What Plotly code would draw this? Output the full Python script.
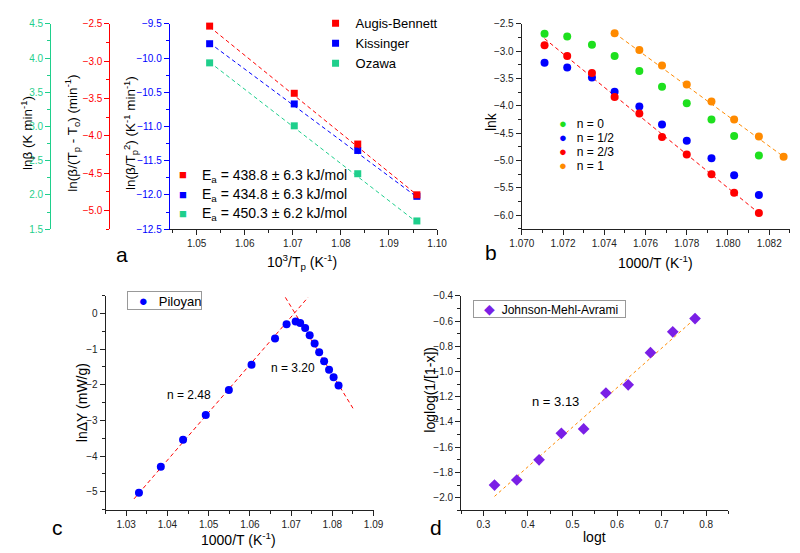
import plotly.graph_objects as go

# the page body adds an 8px margin, so the figure is drawn 8px in from the top-left corner
OFF = 8
W, H = 800 - OFF, 553 - OFF
FONT = "Liberation Sans, Arial, sans-serif"
NB = "\u00a0"

# panel a - Kissinger / Augis-Bennett / Ozawa
a_x = [1.0527, 1.0703, 1.0835, 1.0958]
a_augis = [-2.53, -3.43, -4.11, -4.79]
a_kissinger = [-9.79, -10.67, -11.35, -12.02]
a_ozawa = [3.93, 3.01, 2.31, 1.62]
a_fit_x = [1.0527, 1.0958]
a_augis_fit = [-2.54, -4.79]
a_kissinger_fit = [-9.78, -12.03]
a_ozawa_fit = [3.94, 1.60]
a_ea_labels = ["438.8 ± 6.3", "434.8 ± 6.3", "450.3 ± 6.2"]

# panel b - lnk vs 1000/T for different n
b_x = [1.0711, 1.0722, 1.0734, 1.0745, 1.0757, 1.0768, 1.0780, 1.0792, 1.0803, 1.0815]
b_n0 = [-2.68, -2.73, -2.88, -3.09, -3.36, -3.65, -3.95, -4.25, -4.55, -4.91]
b_n12 = [-3.21, -3.30, -3.48, -3.74, -4.01, -4.34, -4.64, -4.96, -5.27, -5.63]
b_n23 = [-2.89, -3.09, -3.40, -3.84, -4.14, -4.57, -4.89, -5.25, -5.59, -5.96]
b_x1 = [1.0745, 1.0757, 1.0768, 1.0780, 1.0792, 1.0803, 1.0815, 1.0827]
b_n1 = [-2.67, -2.98, -3.26, -3.61, -3.92, -4.25, -4.56, -4.93]
b_n23_fit_x = [1.0711, 1.0813]
b_n23_fit = [-2.77, -5.90]
b_n1_fit_x = [1.0745, 1.0827]
b_n1_fit = [-2.67, -4.93]
b_names = ["n = 0", "n = 1/2", "n = 2/3", "n = 1"]

# panel c - Piloyan
c_x = [1.0331, 1.0384, 1.0438, 1.0493, 1.0549, 1.0604, 1.0661, 1.0689, 1.0711,
       1.0722, 1.0734, 1.0745, 1.0757, 1.0768, 1.0780, 1.0792, 1.0803, 1.0815]
c_y = [-5.03, -4.30, -3.54, -2.85, -2.15, -1.44, -0.70, -0.305, -0.225,
       -0.27, -0.41, -0.61, -0.84, -1.09, -1.34, -1.58, -1.79, -2.02]
c_fit1_x = [1.0319, 1.0741]
c_fit1 = [-5.20, 0.45]
c_fit2_x = [1.0686, 1.0850]
c_fit2 = [0.45, -2.66]

# panel d - Johnson-Mehl-Avrami
d_x = [0.325, 0.375, 0.425, 0.475, 0.525, 0.575, 0.625, 0.675, 0.725, 0.775]
d_y = [-1.90, -1.86, -1.70, -1.49, -1.455, -1.17, -1.105, -0.85, -0.685, -0.58]
d_fit_x = [0.325, 0.775]
d_fit = [-1.99, -0.58]

RED = "#ff0000"
BLUE = "#0000ff"
TEAL = "#1fcf8c"
GREEN = "#1ee01e"
ORANGE = "#ff8a00"
PURPLE = "#7a1fe6"
INK = "#222222"


def px(x):
    return (x - OFF) / W


def py(y):
    return 1 - (y - OFF) / H


def axis(color=INK, **kw):
    d = dict(showline=True, linecolor=color, linewidth=1, ticks="outside", ticklen=5,
             tickcolor=color, showgrid=False, zeroline=False,
             tickfont=dict(size=10, color=color, family=FONT))
    d.update(kw)
    return d


def minor(step, color=INK):
    return dict(ticks="outside", ticklen=3, dtick=step, tickcolor=color)


fig = go.Figure()

dash = "4px,3px"
# panel a
for ys, fit, name, color, yax in [
    (a_augis, a_augis_fit, "Augis-Bennett", RED, "y2"),
    (a_kissinger, a_kissinger_fit, "Kissinger", BLUE, "y"),
    (a_ozawa, a_ozawa_fit, "Ozawa", TEAL, "y3"),
]:
    fig.add_trace(go.Scatter(x=a_fit_x, y=fit, mode="lines", xaxis="x", yaxis=yax,
                             line=dict(color=color, width=1, dash=dash), showlegend=False))
    fig.add_trace(go.Scatter(x=a_x, y=ys, mode="markers", name=name, xaxis="x", yaxis=yax,
                             marker=dict(symbol="square", size=7, color=color), cliponaxis=False))

# panel b
fig.add_trace(go.Scatter(x=b_n23_fit_x, y=b_n23_fit, mode="lines", xaxis="x2", yaxis="y4",
                         line=dict(color=RED, width=1, dash=dash), showlegend=False))
fig.add_trace(go.Scatter(x=b_n1_fit_x, y=b_n1_fit, mode="lines", xaxis="x2", yaxis="y4",
                         line=dict(color=ORANGE, width=1, dash=dash), showlegend=False))
for xs, ys, name, color in [(b_x, b_n0, b_names[0], GREEN), (b_x, b_n12, b_names[1], BLUE),
                            (b_x, b_n23, b_names[2], RED), (b_x1, b_n1, b_names[3], ORANGE)]:
    fig.add_trace(go.Scatter(x=xs, y=ys, mode="markers", name=name, xaxis="x2", yaxis="y4",
                             marker=dict(size=8, color=color), showlegend=False, cliponaxis=False))

# panel c
for xs, ys in [(c_fit1_x, c_fit1), (c_fit2_x, c_fit2)]:
    fig.add_trace(go.Scatter(x=xs, y=ys, mode="lines", xaxis="x3", yaxis="y5",
                             line=dict(color=RED, width=1, dash=dash), showlegend=False))
fig.add_trace(go.Scatter(x=c_x, y=c_y, mode="markers", name="Piloyan", xaxis="x3", yaxis="y5",
                         marker=dict(size=8, color=BLUE), showlegend=False))

# panel d
fig.add_trace(go.Scatter(x=d_fit_x, y=d_fit, mode="lines", xaxis="x4", yaxis="y6",
                         line=dict(color=ORANGE, width=1, dash="3px,3px"), showlegend=False))
fig.add_trace(go.Scatter(x=d_x, y=d_y, mode="markers", name="Johnson-Mehl-Avrami",
                         xaxis="x4", yaxis="y6", marker=dict(symbol="diamond", size=9, color=PURPLE),
                         showlegend=False))

ann = []


def text(x, y, s, size=14, angle=0, anchor="center", color="black", **kw):
    ann.append(dict(x=px(x), y=py(y), xref="paper", yref="paper", text=s, showarrow=False,
                    textangle=angle, xanchor=anchor, yanchor="middle",
                    font=dict(size=size, color=color, family=FONT), **kw))


def dot(color, glyph="●", size=15):
    return f"<span style='color:{color};font-size:{size}px'>{glyph}</span>"


# axis titles
text(15, 125, "lnβ (K min<sup>-1</sup>)", size=13.5, angle=-90)
text(62, 125, "ln(β/(T<sub>p</sub> - T<sub>o</sub>) (min<sup>-1</sup>)", size=13.5, angle=-90)
text(122, 125, "ln(β/T<sub>p</sub><sup>2</sup>) (K<sup>-1</sup> min<sup>-1</sup>)", size=13.5, angle=-90)
text(298, 258, "10<sup>3</sup>/T<sub>p</sub> (K<sup>-1</sup>)")
text(492, 113, "lnk", angle=-90)
text(662, 258, "1000/T (K<sup>-1</sup>)")
text(72, 404, "lnΔY (mW/g)", angle=-90)
text(233, 545, "1000/T (K<sup>-1</sup>)")
text(430, 390, "loglog(1/[1-x])", angle=-90)
text(599, 543, "logt")

# panel letters
text(113, 250, "a", size=21)
text(492, 248, "b", size=21)
text(47, 533, "c", size=21)
text(436, 533, "d", size=21)

# Ea labels (panel a)
for i, (lab, color) in enumerate(zip(a_ea_labels, [RED, BLUE, TEAL])):
    yy = 169 + i * 20
    text(176, yy - 1, dot(color, "■", 13), size=13)
    text(193, yy, f"E<sub>a</sub> = {lab} kJ/mol", size=14, anchor="left")

# panel b legend
for i, (name, color) in enumerate(zip(b_names, [GREEN, BLUE, RED, ORANGE])):
    yy = 115 + i * 14.6
    text(560, yy, dot(color, size=13) + NB * 3 + name, size=12, anchor="left", height=13)

# panel c and d legend boxes
text(118, 298.5, NB * 3 + dot(BLUE) + NB * 3 + "Piloyan", size=13, anchor="left",
     width=73, height=17, align="left", bordercolor="#999999", borderwidth=1, borderpad=0,
     bgcolor="white")
text(474, 306.5, NB * 3 + dot(PURPLE, "◆", 14) + NB * 2 + "Johnson-Mehl-Avrami", size=12,
     anchor="left", width=151, height=16, align="left", bordercolor="#999999", borderwidth=1,
     borderpad=0, bgcolor="white")

# fit slope labels
text(182, 396, "n = 2.48", size=12)
text(289, 368, "n = 3.20", size=12)
text(559, 403, "n = 3.13", size=13)

TOP = 12
fig.update_layout(
    width=W, height=H,
    margin=dict(l=0, r=0, t=0, b=0),
    paper_bgcolor="white", plot_bgcolor="white",
    font=dict(family=FONT, color="black"),
    annotations=ann,
    # panel a
    xaxis=axis(domain=[px(162), px(437)], anchor="y", range=[1.0444, 1.1], tick0=1.05, dtick=0.01,
               tickformat=".2f", minor=minor(0.005)),
    yaxis=axis(BLUE, domain=[py(224.3), py(TOP)], anchor="x", range=[-12.5, -9.5], dtick=0.5,
               tickformat=".1f", minor=minor(0.25, BLUE)),
    yaxis2=axis(RED, overlaying="y", anchor="free", position=px(100), side="left",
                range=[-5.25, -2.5], dtick=0.5, tickformat=".1f", minor=minor(0.25, RED)),
    yaxis3=axis(TEAL, overlaying="y", anchor="free", position=px(39), side="left",
                range=[1.5, 4.5], dtick=0.5, tickformat=".1f", minor=minor(0.25, TEAL)),
    # panel b
    xaxis2=axis(domain=[px(524), 1.0], anchor="y4", range=[1.06999, 1.08301], tick0=1.07,
                dtick=0.002, tickformat=".3f", minor=minor(0.001)),
    yaxis4=axis(domain=[py(224), py(TOP)], anchor="x2", range=[-6.25, -2.5], dtick=0.5,
                tickformat=".1f", minor=minor(0.25)),
    # panel c
    xaxis3=axis(domain=[px(96), px(371.7)], anchor="y5", range=[1.025, 1.09], tick0=1.03,
                dtick=0.01, tickformat=".2f", minor=minor(0.005)),
    yaxis5=axis(domain=[py(514.3), py(293)], anchor="x3", range=[-5.5, 0.5], dtick=1,
                minor=minor(0.5)),
    # panel d
    xaxis4=axis(domain=[px(461.7), px(736.7)], anchor="y6", range=[0.25, 0.85], tick0=0.3,
                dtick=0.1, tickformat=".1f", minor=minor(0.05)),
    yaxis6=axis(domain=[py(515), py(293.3)], anchor="x4", range=[-2.1, -0.4], dtick=0.2,
                tickformat=".1f", minor=minor(0.1)),
    legend=dict(x=px(312), y=py(-4), xanchor="left", yanchor="top", bgcolor="rgba(0,0,0,0)",
                font=dict(size=13, family=FONT)),
)

fig.write_html("out.html")
